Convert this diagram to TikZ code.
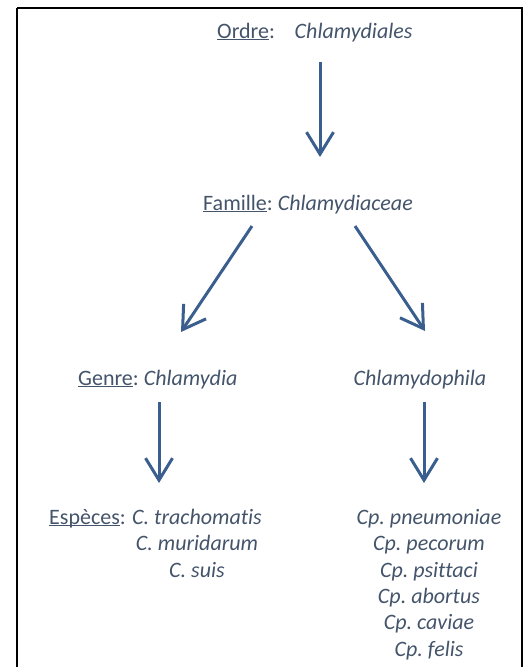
\documentclass[tikz,border=0pt]{standalone}
\usepackage{fontspec}
\setmainfont[Ligatures=CommonOff]{Carlito}
\usetikzlibrary{arrows.meta}
\definecolor{txtblue}{HTML}{44546A}
\definecolor{arrblue}{HTML}{3A5F8F}
% underline that ignores descenders
\newcommand\rankul[1]{\underline{\smash{#1}}}
\frenchspacing
\begin{document}
\begin{tikzpicture}[x=1pt,y=-1pt,
  lbl/.style={inner sep=0pt,text=txtblue,font=\fontsize{22}{26.4}\selectfont},
  arr/.style={draw=arrblue,line width=3pt,
    -{Straight Barb[length=22pt,width=27pt,line width=3pt]}}]
  \useasboundingbox (0,0) rectangle (530,667);
  % frame
  \draw[line width=2pt] (17,8) -- (17,672) (17,8) -- (522,8) -- (522,672);

  % labels
  \node[lbl,anchor=base west] (ordre) at (217,38) {\rankul{Ordre}:\hspace{0.9em}\textit{Chlamydiales}};
  \node[lbl,anchor=base west] (famille) at (203,210) {\rankul{Famille}: \textit{Chlamydiaceae}};
  \node[lbl,anchor=base west] (genre) at (78,385) {\rankul{Genre}: \textit{Chlamydia}};
  \node[lbl,anchor=base] (chlamydophila) at (420,385) {\textit{Chlamydophila}};
  \node[lbl,anchor=base west] (especes) at (49,524) {\rankul{Espèces}:};
  \node[lbl,anchor=north,align=center] (cspec) at (197,509)
    {\textit{C. trachomatis}\\\textit{C. muridarum}\\\textit{C. suis}};
  \node[lbl,anchor=north,align=center] (cpspec) at (429,509)
    {\textit{Cp. pneumoniae}\\\textit{Cp. pecorum}\\\textit{Cp. psittaci}\\
     \textit{Cp. abortus}\\\textit{Cp. caviae}\\\textit{Cp. felis}};

  % connectors
  \coordinate (a1s) at (320,62);  \coordinate (a1e) at (320,157);
  \coordinate (a2s) at (252,226); \coordinate (a2e) at (181,332);
  \coordinate (a3s) at (355,226); \coordinate (a3e) at (425,331);
  \coordinate (a4s) at (159,402); \coordinate (a4e) at (159,483);
  \coordinate (a5s) at (424,402); \coordinate (a5e) at (424,483);
  \draw[arr] (a1s) -- (a1e);
  \draw[arr] (a2s) -- (a2e);
  \draw[arr] (a3s) -- (a3e);
  \draw[arr] (a4s) -- (a4e);
  \draw[arr] (a5s) -- (a5e);
\end{tikzpicture}
\end{document}
